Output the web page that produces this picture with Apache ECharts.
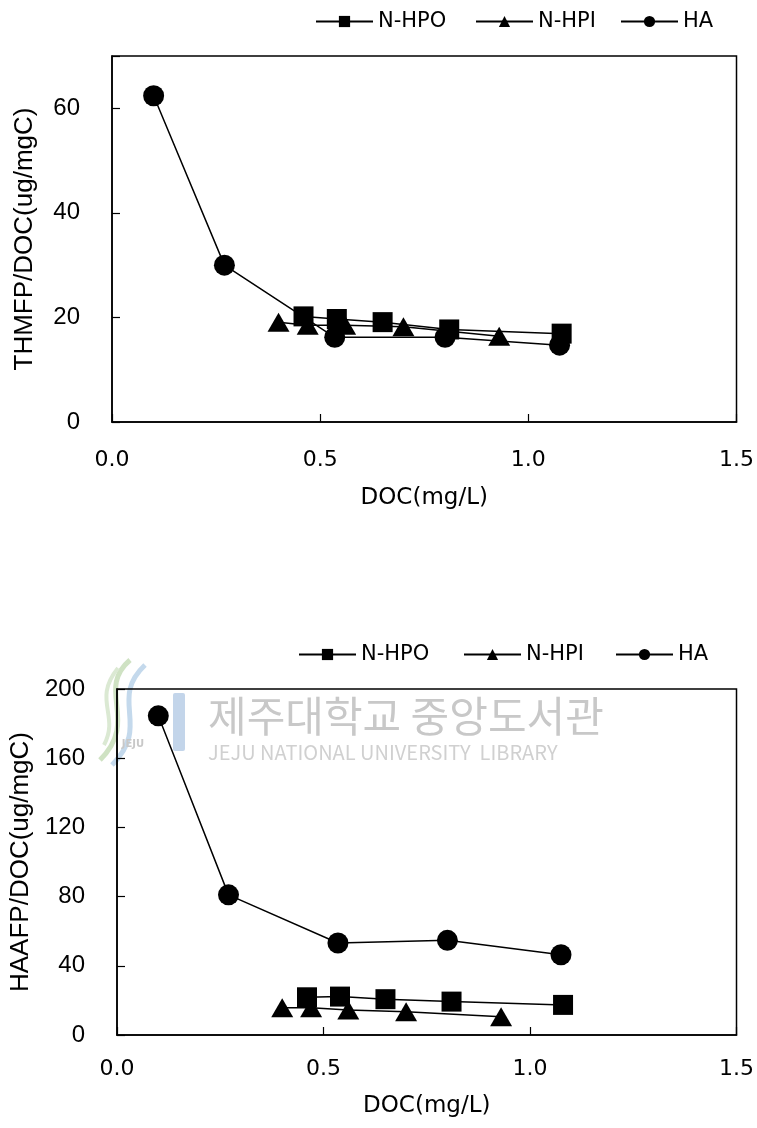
<!DOCTYPE html>
<html>
<head>
<meta charset="utf-8">
<script src="https://cdn.jsdelivr.net/npm/echarts@6/dist/echarts.min.js"></script>
<style>
html,body{margin:0;padding:0;background:#fff;}
#chart{width:757px;height:1128px;}
</style>
</head>
<body>
<div id="chart"></div>
<script>
// ---- data ----
const seriesNames = ['N-HPO', 'N-HPI', 'HA'];
const xTicks = [0.0, 0.5, 1.0, 1.5];
const thmTicks = [0, 20, 40, 60];
const haaTicks = [0, 40, 80, 120, 160, 200];

// DOC (mg/L)
const hpoDOC = [0.46, 0.54, 0.65, 0.81, 1.08];
const hpiDOC = [0.40, 0.47, 0.56, 0.70, 0.93];
const haDOC  = [0.10, 0.27, 0.535, 0.80, 1.075];

// THMFP/DOC (ug/mgC)
const thmHPO = [20.2, 19.7, 19.1, 17.7, 16.9];
const thmHPI = [19.1, 18.5, 18.5, 18.2, 16.4];
const thmHA  = [62.4, 30.0, 16.2, 16.2, 14.7];

// HAAFP/DOC (ug/mgC)
const haaHPO = [21.8, 22.2, 20.7, 19.3, 17.4];
const haaHPI = [15.8, 15.8, 14.5, 13.5, 10.6];
const haaHA  = [184.5, 81.0, 53.2, 54.7, 46.4];

// ---- helpers ----
const pairs = (xs, ys) => xs.map((x, i) => [x, ys[i]]);
const symbols = {'N-HPO': 'rect', 'N-HPI': 'triangle', 'HA': 'circle'};
const sizes = {'N-HPO': 20, 'N-HPI': [22, 19], 'HA': 21};
const latin = 'DejaVu Sans';
const arial = 'Liberation Sans';

function mkSeries(name, data, idx) {
  return {
    type: 'line', name: name, xAxisIndex: idx, yAxisIndex: idx,
    data: data, symbol: symbols[name], symbolSize: sizes[name],
    showAllSymbol: true, animation: false,
    lineStyle: {color: '#000', width: 1.5},
    itemStyle: {color: '#000'},
    z: 3
  };
}

function mkLegend(name, left, top) {
  return {
    data: [name], left: left, top: top, orient: 'horizontal',
    itemWidth: 57, itemHeight: 14, itemGap: 0, selectedMode: false,
    textStyle: {fontFamily: latin, fontSize: 21, color: '#000', padding: [0, 0, 0, 0]},
    padding: 0
  };
}

function mkX(idx, labelMargin, nameGap) {
  return {
    type: 'value', gridIndex: idx, min: 0, max: 1.5, interval: 0.5,
    name: 'DOC(mg/L)', nameLocation: 'middle', nameGap: nameGap,
    nameTextStyle: {fontFamily: latin, fontSize: 23, color: '#000'},
    axisLine: {show: true, lineStyle: {color: '#000', width: 1.5}},
    axisTick: {show: true, inside: true, length: 8, lineStyle: {color: '#000', width: 1.2}},
    axisLabel: {margin: labelMargin, fontFamily: latin, fontSize: 22, color: '#000',
      formatter: v => (xTicks.indexOf(v) >= 0 ? v.toFixed(1) : '')},
    splitLine: {show: false}
  };
}

function mkY(idx, max, interval, name, nameGap, ticks) {
  return {
    type: 'value', gridIndex: idx, min: 0, max: max, interval: interval,
    name: name, nameLocation: 'middle', nameGap: nameGap, nameRotate: 90,
    nameTextStyle: {fontFamily: arial, fontSize: 26, color: '#000'},
    axisLine: {show: true, lineStyle: {color: '#000', width: 1.5}},
    axisTick: {show: true, inside: true, length: 8, lineStyle: {color: '#000', width: 1.2}},
    axisLabel: {margin: 32, fontFamily: arial, fontSize: 24, color: '#000',
      formatter: v => (ticks.indexOf(v) >= 0 ? String(v) : '')},
    splitLine: {show: false}
  };
}

const chart = echarts.init(document.getElementById('chart'), null, {renderer: 'canvas'});

const option = {
  backgroundColor: '#fff',
  animation: false,
  grid: [
    {left: 112, top: 56, width: 628, height: 366, show: true, borderColor: '#000', borderWidth: 1.5, containLabel: false},
    {left: 117, top: 689, width: 624, height: 346, show: true, borderColor: '#000', borderWidth: 1.5, containLabel: false}
  ],
  xAxis: [mkX(0, 27, 65), mkX(1, 23, 60)],
  yAxis: [
    mkY(0, 70, 20, 'THMFP/DOC(ug/mgC)', 74, thmTicks),
    mkY(1, 200, 40, 'HAAFP/DOC(ug/mgC)', 80, haaTicks)
  ],
  legend: [
    mkLegend('N-HPO', 315, 11), mkLegend('N-HPI', 475, 11), mkLegend('HA', 620, 11),
    mkLegend('N-HPO', 298, 644), mkLegend('N-HPI', 463, 644), mkLegend('HA', 615, 644)
  ],
  graphic: [
    // watermark logo (pale)
    {type: 'bezierCurve', z: -5, silent: true,
     shape: {x1: 130, y1: 660, x2: 100, y2: 760, cpx1: 95, cpy1: 690, cpx2: 140, cpy2: 720},
     style: {stroke: '#cfe2c3', lineWidth: 5, fill: null}},
    {type: 'bezierCurve', z: -5, silent: true,
     shape: {x1: 145, y1: 665, x2: 112, y2: 765, cpx1: 108, cpy1: 700, cpx2: 152, cpy2: 725},
     style: {stroke: '#c4d9ec', lineWidth: 5, fill: null}},
    {type: 'bezierCurve', z: -5, silent: true,
     shape: {x1: 118, y1: 668, x2: 104, y2: 745, cpx1: 92, cpy1: 700, cpx2: 120, cpy2: 715},
     style: {stroke: '#dbe9d3', lineWidth: 4, fill: null}},
    {type: 'rect', z: -5, silent: true,
     shape: {x: 173, y: 693, width: 12, height: 58, r: 2},
     style: {fill: '#c3d5ea'}},
    {type: 'text', z: -5, silent: true, x: 133, y: 744,
     style: {text: 'JEJU', fill: '#c8c8c8', font: 'bold 10px "DejaVu Sans"', align: 'center', verticalAlign: 'middle'}},
    {type: 'text', z: -5, silent: true, x: 208, y: 716,
     style: {text: '제주대학교 중앙도서관', fill: '#c8c8c8', font: '42px "Noto Sans CJK KR"', align: 'left', verticalAlign: 'middle'}},
    {type: 'text', z: -5, silent: true, x: 208, y: 752,
     style: {text: 'JEJU NATIONAL UNIVERSITY  LIBRARY', fill: '#d0d0d0', font: '20px "Noto Sans CJK KR"', align: 'left', verticalAlign: 'middle'}}
  ],
  series: [
    mkSeries('N-HPO', pairs(hpoDOC, thmHPO), 0),
    mkSeries('N-HPI', pairs(hpiDOC, thmHPI), 0),
    mkSeries('HA', pairs(haDOC, thmHA), 0),
    mkSeries('N-HPO', pairs(hpoDOC, haaHPO), 1),
    mkSeries('N-HPI', pairs(hpiDOC, haaHPI), 1),
    mkSeries('HA', pairs(haDOC, haaHA), 1)
  ]
};
chart.setOption(option);
</script>
</body>
</html>
